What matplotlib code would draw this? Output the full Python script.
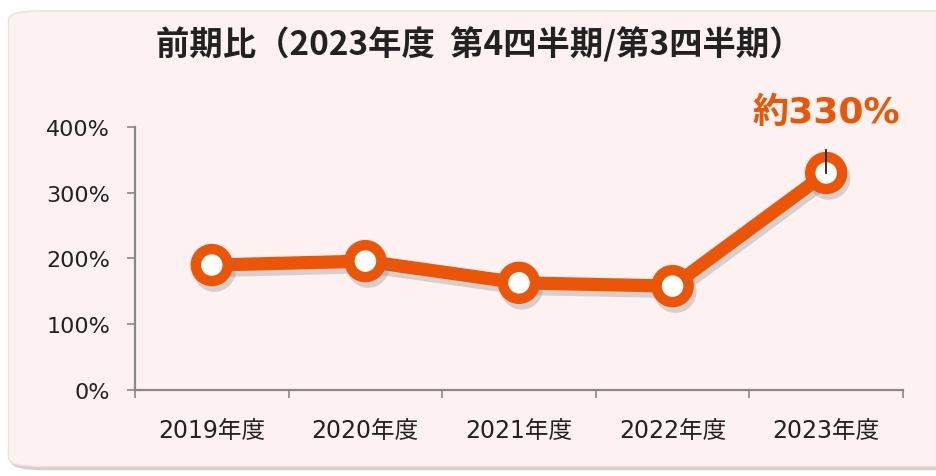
import matplotlib
matplotlib.use("Agg")
import matplotlib.pyplot as plt
import matplotlib.patheffects as pe
from matplotlib.patches import FancyBboxPatch

plt.rcParams['font.family'] = ['DejaVu Sans', 'Noto Sans CJK JP']

# データ
years = ['2019年度', '2020年度', '2021年度', '2022年度', '2023年度']
ratio = [190, 196, 163, 158, 330]
err_top = 365  # 2023年度のエラーバー上端
title = '前期比（2023年度  第4四半期/第3四半期）'
callout = '約330%'
yticks = [0, 100, 200, 300, 400]

orange = '#eb5505'

fig = plt.figure(figsize=(9.36, 4.77), dpi=100)
fig.patch.set_facecolor('white')

# 背景パネル（角丸）
shadow = FancyBboxPatch((0.012, 0.012), 1.2, 0.96, boxstyle='round,pad=0,rounding_size=0.035',
                        transform=fig.transFigure, facecolor='#d8d0d0', edgecolor='none',
                        mutation_aspect=477 / 936, zorder=-3)
panel = FancyBboxPatch((0.009, 0.02), 1.2, 0.955, boxstyle='round,pad=0,rounding_size=0.035',
                       transform=fig.transFigure, facecolor='#fdf1f1', edgecolor='#eee0e0',
                       mutation_aspect=477 / 936, zorder=-2)
fig.patches.extend([shadow, panel])

ax = fig.add_axes([0.1442, 0.1803, 0.8205, 0.5514])
ax.set_facecolor('none')

x = list(range(len(years)))
shadow_fx = [pe.SimpleLineShadow(offset=(2, -4), shadow_color='#808080', alpha=0.3), pe.Normal()]
ax.plot(x, ratio, color=orange, lw=9.5, solid_capstyle='round', zorder=3, path_effects=shadow_fx)
ax.plot(x, ratio, 'o', ms=23, mfc='white', mec=orange, mew=7.5, zorder=4, path_effects=shadow_fx)
ax.plot([x[-1], x[-1]], [ratio[-1], err_top], color='#222222', lw=1.3, zorder=5)

ax.set_xlim(-0.5, len(years) - 0.5)
ax.set_ylim(0, 400)
ax.set_yticks(yticks)
ax.set_yticklabels([f'{v}%' for v in yticks])
ax.set_xticks(x)
ax.set_xticklabels(years)
ax.set_xticks([i - 0.5 for i in range(len(years) + 1)], minor=True)
ax.tick_params(axis='x', which='major', length=0, pad=20, labelsize=17, labelcolor='#222222')
ax.tick_params(axis='x', which='minor', length=6, color='#888888', width=1.2)
ax.tick_params(axis='y', length=6, color='#888888', width=1.2, labelsize=16, labelcolor='#222222', pad=12)

for s in ['top', 'right']:
    ax.spines[s].set_visible(False)
for s in ['left', 'bottom']:
    ax.spines[s].set_color('#888888')
    ax.spines[s].set_linewidth(1.6)

fig.text(0.512, 0.906, title, ha='center', va='center', fontsize=24, fontweight='bold',
         color='#222222', family=['Noto Sans CJK JP', 'DejaVu Sans'])
ax.annotate(callout, xy=(x[-1], ratio[-1]), xytext=(x[-1], 423), textcoords='data',
            ha='center', va='center', fontsize=26, fontweight='bold', color=orange,
            annotation_clip=False)

fig.savefig('out.png', dpi=100)
